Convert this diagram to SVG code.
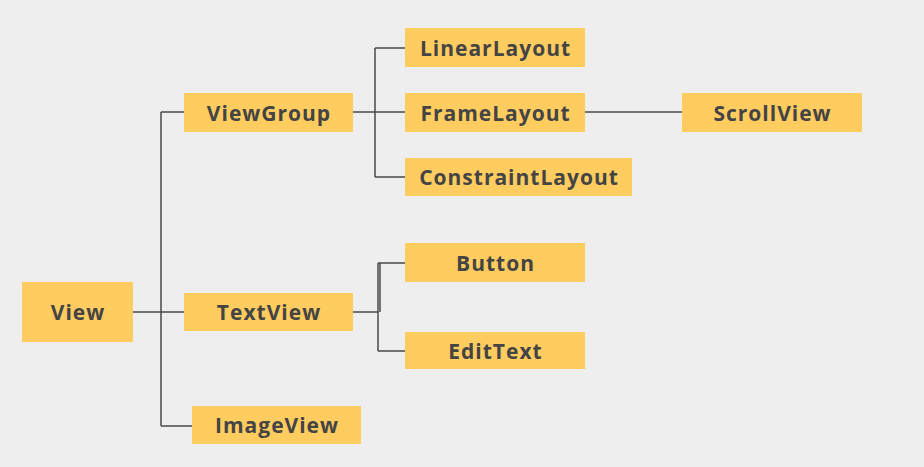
<svg xmlns="http://www.w3.org/2000/svg" width="924" height="467" viewBox="0 0 924 467">
<style>
.box{fill:#ffcc5f;}
.lbl{font-family:"Open Sans","Liberation Sans",sans-serif;font-weight:700;font-size:21px;letter-spacing:1px;fill:#444444;text-anchor:middle;dominant-baseline:central;}
.ln{stroke:#4a4a4a;stroke-width:1.5;fill:none;}
</style>
<rect width="924" height="467" fill="#eeeeee"/>
<g id="connectors">
<path class="ln" d="M133 312H184M161 112V426M161 112H184M161 426H192"/>
<path class="ln" d="M353 112H405M375 48V177M375 48H405M375 177H405"/>
<path class="ln" d="M585 112H682"/>
<path class="ln" d="M353 312H378M378 263V351M378 263H405M378 351H405M380 263V312"/>
</g>
<g id="View"><rect class="box" x="22" y="282" width="111" height="60"/><text class="lbl" x="78" y="312">View</text></g>
<g id="ViewGroup"><rect class="box" x="184" y="93" width="169" height="39"/><text class="lbl" x="269" y="112.5">ViewGroup</text></g>
<g id="TextView"><rect class="box" x="184" y="293" width="169" height="38"/><text class="lbl" x="269" y="312">TextView</text></g>
<g id="ImageView"><rect class="box" x="192" y="406" width="169" height="38"/><text class="lbl" x="277" y="425">ImageView</text></g>
<g id="LinearLayout"><rect class="box" x="405" y="28" width="180" height="39"/><text class="lbl" x="495.5" y="47.5">LinearLayout</text></g>
<g id="FrameLayout"><rect class="box" x="405" y="93" width="180" height="39"/><text class="lbl" x="495.5" y="112.5">FrameLayout</text></g>
<g id="ConstraintLayout"><rect class="box" x="405" y="158" width="227" height="38"/><text class="lbl" x="519" y="177">ConstraintLayout</text></g>
<g id="ScrollView"><rect class="box" x="682" y="93" width="180" height="39"/><text class="lbl" x="772.5" y="112.5">ScrollView</text></g>
<g id="Button"><rect class="box" x="405" y="243" width="180" height="39"/><text class="lbl" x="495.5" y="262.5">Button</text></g>
<g id="EditText"><rect class="box" x="405" y="332" width="180" height="37"/><text class="lbl" x="495.5" y="350.5">EditText</text></g>
</svg>
